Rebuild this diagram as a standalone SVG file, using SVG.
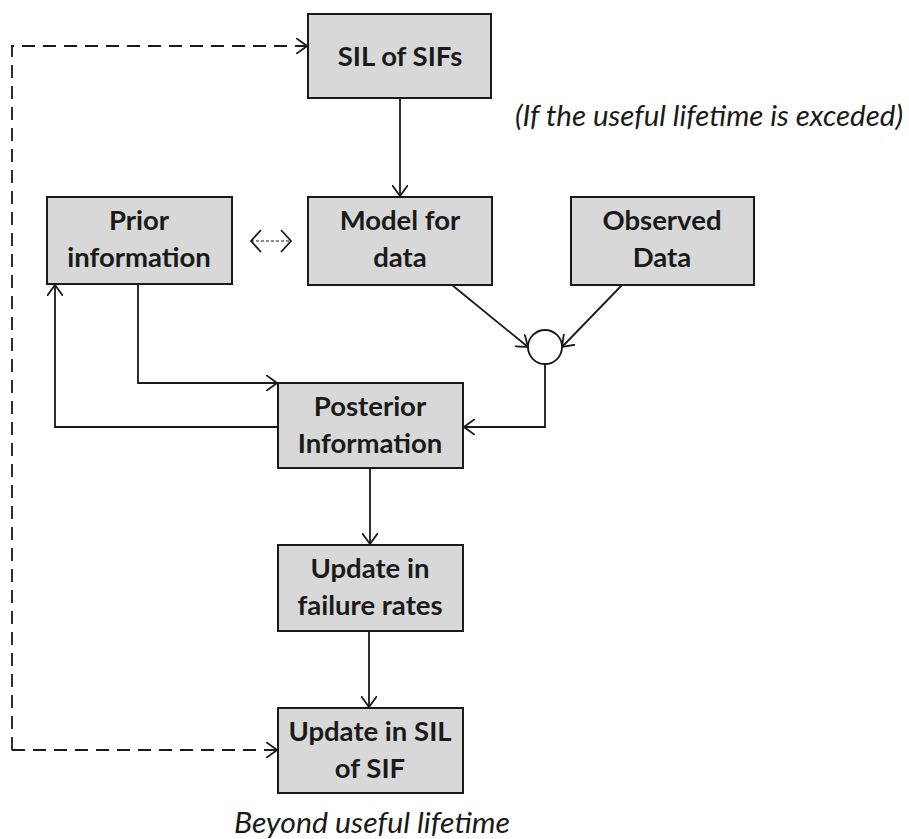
<svg xmlns="http://www.w3.org/2000/svg" width="909" height="839" viewBox="0 0 909 839">
<defs>
<marker id="arr" viewBox="0 0 12 16" markerWidth="12" markerHeight="16" refX="11" refY="8" orient="auto" markerUnits="userSpaceOnUse">
<path d="M0,0 L11,8 L0,16" fill="none" stroke="#1a1a1a" stroke-width="1.8"/>
</marker>
<marker id="arrS" viewBox="0 0 12 24" markerWidth="12" markerHeight="24" refX="11" refY="12" orient="auto-start-reverse" markerUnits="userSpaceOnUse">
<path d="M1,1 L11,12 L1,23" fill="none" stroke="#1a1a1a" stroke-width="1.8"/>
</marker>
</defs>
<style>
.box{fill:#d8d8d8;stroke:#1a1a1a;stroke-width:2}
.lbl{font-family:Lato,"Liberation Sans",sans-serif;font-weight:bold;font-size:27.5px;fill:#1a1a1a;text-anchor:middle}
.it{font-family:Lato,"Liberation Sans",sans-serif;font-style:italic;font-size:29px;fill:#1a1a1a}
.c{fill:none;stroke:#1a1a1a;stroke-width:1.8}
.d{stroke-dasharray:13,8}
</style>
<rect width="909" height="839" fill="#fff"/>
<g id="connectors">
<path class="c d" d="M12,750 L12,46 L307,46" marker-end="url(#arr)"/>
<path class="c d" d="M12,750 L277,750" marker-end="url(#arr)"/>
<path class="c" d="M400,98 L400,196" marker-end="url(#arr)"/>
<path class="c" d="M452,285 L528,347" marker-end="url(#arr)"/>
<path class="c" d="M622,285 L562,347" marker-end="url(#arr)"/>
<path class="c" d="M545,364 L545,427 L464,427" marker-end="url(#arr)"/>
<path class="c" d="M138,284 L138,383 L277,383" marker-end="url(#arr)"/>
<path class="c" d="M278,427 L55,427 L55,285" marker-end="url(#arr)"/>
<path class="c" d="M370,468 L370,544" marker-end="url(#arr)"/>
<path class="c" d="M369,631 L369,707" marker-end="url(#arr)"/>
<path d="M251,241 L291,241" fill="none" stroke="#1a1a1a" stroke-width="1.2" stroke-dasharray="3,2" marker-start="url(#arrS)" marker-end="url(#arrS)"/>
</g>
<g id="sil">
<rect class="box" x="308" y="14" width="183" height="84"/>
<text class="lbl" x="400" y="66">SIL of SIFs</text>
</g>
<g id="model">
<rect class="box" x="308" y="197" width="184" height="88"/>
<text class="lbl" x="400" y="230">Model for</text>
<text class="lbl" x="400" y="267">data</text>
</g>
<g id="observed">
<rect class="box" x="571" y="197" width="183" height="88"/>
<text class="lbl" x="662" y="230">Observed</text>
<text class="lbl" x="662" y="267">Data</text>
</g>
<g id="prior">
<rect class="box" x="47" y="197" width="185" height="87"/>
<text class="lbl" x="139" y="230">Prior</text>
<text class="lbl" x="139" y="267">information</text>
</g>
<g id="junction">
<circle cx="545" cy="347" r="17" fill="#fff" stroke="#1a1a1a" stroke-width="1.8"/>
</g>
<g id="posterior">
<rect class="box" x="278" y="383" width="185" height="85"/>
<text class="lbl" x="370" y="416">Posterior</text>
<text class="lbl" x="370" y="453">Information</text>
</g>
<g id="failure">
<rect class="box" x="278" y="545" width="185" height="86"/>
<text class="lbl" x="370" y="578">Update in</text>
<text class="lbl" x="370" y="615">failure rates</text>
</g>
<g id="update">
<rect class="box" x="278" y="708" width="185" height="85"/>
<text class="lbl" x="370" y="741">Update in SIL</text>
<text class="lbl" x="370" y="778">of SIF</text>
</g>
<text class="it" x="515" y="126" textLength="388" lengthAdjust="spacingAndGlyphs">(If the useful lifetime is exceded)</text>
<text class="it" x="234" y="833" textLength="276" lengthAdjust="spacingAndGlyphs">Beyond useful lifetime</text>
</svg>
